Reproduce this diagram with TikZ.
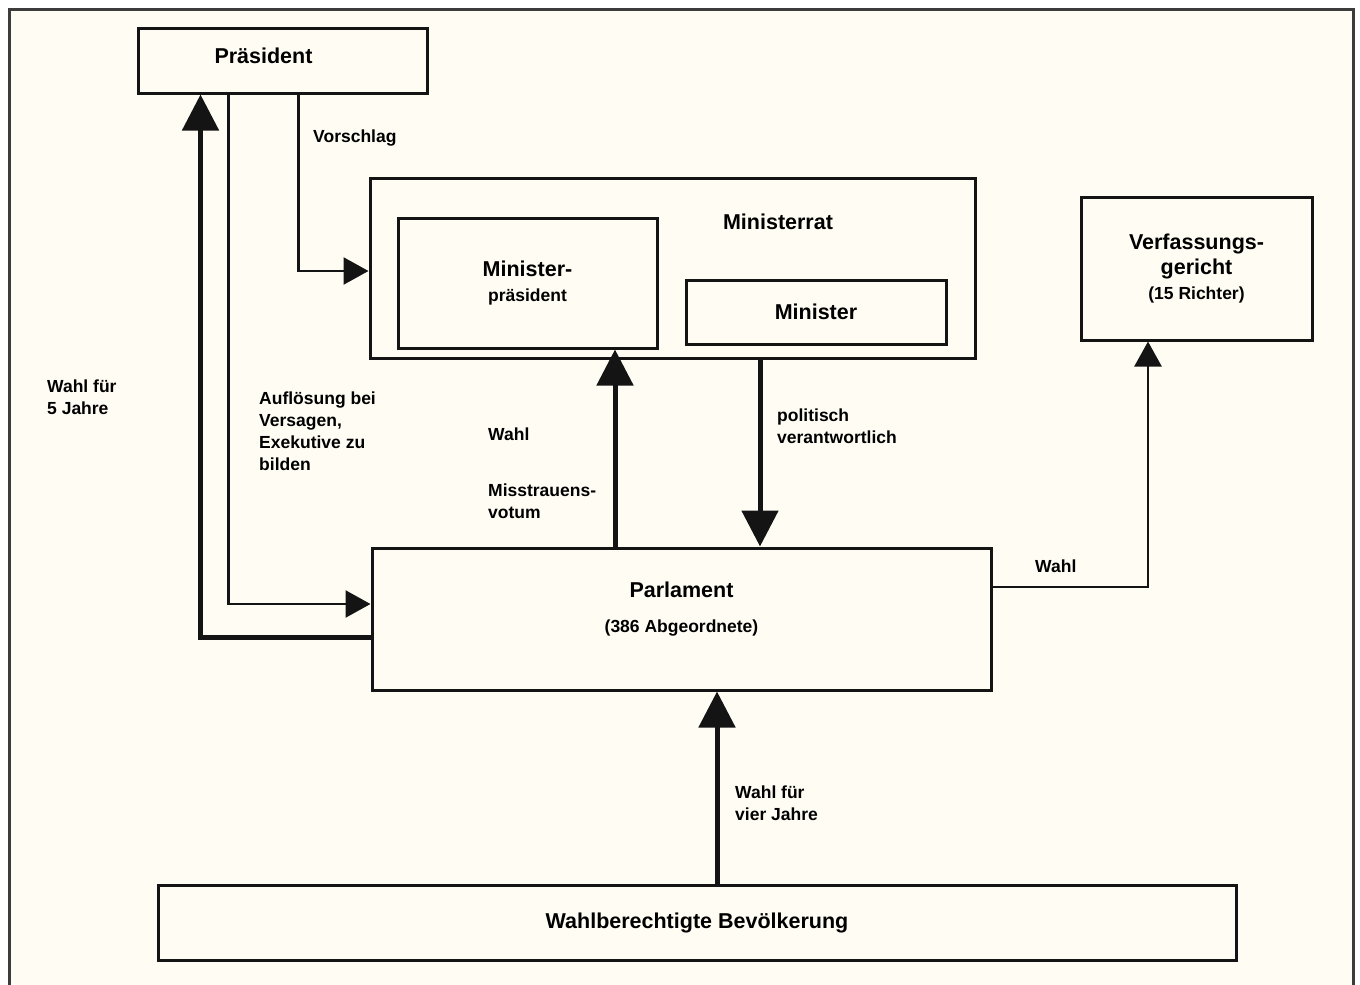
\documentclass[tikz,border=0pt]{standalone}
\usepackage{fontspec}
\setmainfont{Liberation Sans}
\usetikzlibrary{arrows.meta}

\definecolor{paper}{RGB}{255,253,243}
\definecolor{ink}{RGB}{20,20,20}
\definecolor{rahmen}{RGB}{60,60,60}
\newcommand{\grossfont}{\fontsize{21.5}{25}\selectfont\bfseries}
\newcommand{\kleinfont}{\fontsize{17.5}{22}\selectfont\bfseries}

\begin{document}
\begin{tikzpicture}[x=1pt, y=-1pt,
	box/.style={draw=ink, line width=3pt, rectangle, inner sep=0pt, align=center, font=\grossfont},
	lbl/.style={anchor=west, align=left, inner sep=0pt, font=\kleinfont},
	dick/.style={draw=ink, line width=5pt, -{Triangle[width=36pt,length=36pt]}},
	duenn/.style={draw=ink, line width=2.5pt, -{Triangle[width=27pt,length=25pt]}}]

	\useasboundingbox (0,0) rectangle (1360,985);
	\fill[paper] (9,9) rectangle (1353,985);
	\draw[rahmen, line width=3pt] (9,985) -- (9,9) -- (1353,9) -- (1353,985);

	% Organe
	\node[box, minimum width=289pt, minimum height=65pt,
		label={[font=\grossfont, xshift=-19pt, yshift=5pt]center:Präsident}] (praes) at (282.5,60.5) {};
	\node[box, minimum width=605pt, minimum height=180pt,
		label={[font=\grossfont, xshift=105.5pt, yshift=46pt]center:Ministerrat}] (mrat) at (672.5,268) {};
	\node[box, minimum width=259pt, minimum height=130pt] (mp) at (527.5,283) {Minister-\\{\kleinfont präsident}};
	\node[box, minimum width=260pt, minimum height=64pt] (min) at (816,312) {Minister};
	\node[box, minimum width=231pt, minimum height=143pt] (vg) at (1196.5,268.5) {Verfassungs-\\gericht\\{\kleinfont (15 Richter)}};
	\node[box, minimum width=619pt, minimum height=142pt,
		label={[font=\grossfont, align=center, yshift=10pt]center:{Parlament\\[10pt]{\kleinfont (386 Abgeordnete)}}}] (parl) at (681.5,619) {};
	\node[box, minimum width=1078pt, minimum height=75pt] (bev) at (697,922.5) {Wahlberechtigte Bevölkerung};

	% senkrechte Verbindungen
	\coordinate (xWahl) at (615,0);
	\coordinate (xVerant) at (760,0);
	\coordinate (xVG) at (1148,0);
	\coordinate (xBev) at (717,0);

	\draw[dick] ([yshift=-18pt]parl.west) -| ([xshift=-82pt]praes.south);
	\draw[duenn] ([xshift=-54pt]praes.south) |- ([yshift=15pt]parl.west);
	\draw[duenn] ([xshift=16pt]praes.south) |- ([yshift=-3pt]mrat.west);
	\draw[dick] (parl.north -| xWahl) -- (mp.south -| xWahl);
	\draw[dick] (mrat.south -| xVerant) -- (parl.north -| xVerant);
	\draw[duenn] ([yshift=32pt]parl.east) -| (vg.south -| xVG);
	\draw[dick] (bev.north -| xBev) -- (parl.south -| xBev);

	% Beschriftungen
	\node[lbl] (lVorschlag) at (313,138) {Vorschlag};
	\node[lbl] (lWahl5) at (47,397) {Wahl für\\5 Jahre};
	\node[lbl] (lAufl) at (259,431) {Auflösung bei\\Versagen,\\Exekutive zu\\bilden};
	\node[lbl] (lWahlMP) at (488,434) {Wahl};
	\node[lbl] (lMisstr) at (488,501) {Misstrauens-\\votum};
	\node[lbl] (lPolit) at (777,426.5) {politisch\\verantwortlich};
	\node[lbl] (lWahlVG) at (1035,566) {Wahl};
	\node[lbl] (lWahl4) at (735,803) {Wahl für\\vier Jahre};

\end{tikzpicture}
\end{document}
